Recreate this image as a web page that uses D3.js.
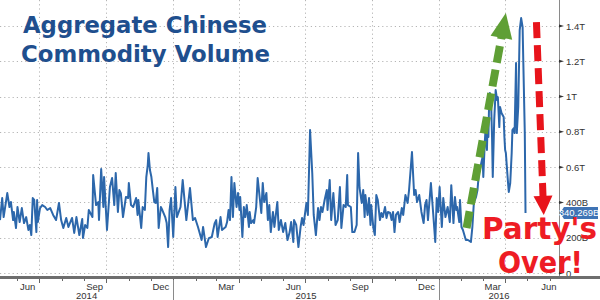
<!DOCTYPE html>
<html>
<head>
<meta charset="utf-8">
<script src="https://cdn.jsdelivr.net/npm/d3@7"></script>
<style>
  body { margin: 0; background: #fff; }
  svg { display: block; }
  .ax { font-family: "Liberation Sans Narrow", "Arial Narrow", "Liberation Sans", sans-serif; font-size: 9.5px; fill: #333; }
</style>
</head>
<body>
<svg id="chart" width="600" height="300"></svg>
<script>
// aggregate volume, billions
const dates = [
  "2014-05-08","2014-05-11","2014-05-13","2014-05-18","2014-05-21","2014-05-23","2014-05-26","2014-05-27","2014-05-30",
  "2014-06-01","2014-06-04","2014-06-07","2014-06-10","2014-06-13","2014-06-16","2014-06-18","2014-06-20","2014-06-22","2014-06-24","2014-06-27","2014-06-28","2014-06-29",
  "2014-07-02","2014-07-05","2014-07-09","2014-07-12","2014-07-16","2014-07-20","2014-07-24","2014-07-28","2014-07-31",
  "2014-08-03","2014-08-07","2014-08-10","2014-08-15","2014-08-18","2014-08-21","2014-08-25","2014-08-29","2014-08-30",
  "2014-09-02","2014-09-05","2014-09-07","2014-09-12","2014-09-13","2014-09-17","2014-09-20","2014-09-21","2014-09-24","2014-09-27","2014-09-28",
  "2014-10-02","2014-10-06","2014-10-09","2014-10-12","2014-10-14","2014-10-17","2014-10-19","2014-10-21","2014-10-24","2014-10-28","2014-10-31",
  "2014-11-01","2014-11-04","2014-11-07","2014-11-11","2014-11-13","2014-11-14","2014-11-18","2014-11-20","2014-11-23","2014-11-25","2014-11-27","2014-11-28","2014-11-30",
  "2014-12-02","2014-12-04","2014-12-06","2014-12-08","2014-12-10","2014-12-12","2014-12-15","2014-12-17","2014-12-21","2014-12-23","2014-12-25","2014-12-27","2014-12-29",
  "2015-01-01","2015-01-04","2015-01-06","2015-01-11","2015-01-14","2015-01-19","2015-01-24","2015-01-28","2015-01-31",
  "2015-02-04","2015-02-09","2015-02-11","2015-02-15","2015-02-19","2015-02-23","2015-02-27",
  "2015-03-01","2015-03-03","2015-03-07","2015-03-09","2015-03-14","2015-03-16","2015-03-18","2015-03-20","2015-03-22","2015-03-24","2015-03-26","2015-03-29","2015-03-31",
  "2015-04-02","2015-04-03","2015-04-06","2015-04-08","2015-04-10","2015-04-12","2015-04-15","2015-04-16","2015-04-18","2015-04-21","2015-04-22","2015-04-25","2015-04-27","2015-04-29",
  "2015-05-02","2015-05-04","2015-05-06","2015-05-09","2015-05-11","2015-05-13","2015-05-15","2015-05-18","2015-05-20","2015-05-24","2015-05-26","2015-05-29",
  "2015-06-01","2015-06-04","2015-06-07","2015-06-10","2015-06-12","2015-06-15","2015-06-16","2015-06-19","2015-06-22","2015-06-25","2015-06-27","2015-06-29",
  "2015-07-03","2015-07-05","2015-07-08","2015-07-11","2015-07-13","2015-07-16","2015-07-19","2015-07-21","2015-07-23","2015-07-25","2015-07-28","2015-07-31",
  "2015-08-01","2015-08-04","2015-08-06","2015-08-09","2015-08-12","2015-08-15","2015-08-18","2015-08-20","2015-08-23","2015-08-26","2015-08-28","2015-08-29",
  "2015-09-02","2015-09-04","2015-09-07","2015-09-10","2015-09-12","2015-09-14","2015-09-17","2015-09-19","2015-09-21","2015-09-22","2015-09-25","2015-09-27","2015-09-29","2015-09-30",
  "2015-10-03","2015-10-05","2015-10-07","2015-10-09","2015-10-12","2015-10-14","2015-10-16","2015-10-19","2015-10-21","2015-10-23","2015-10-26","2015-10-28","2015-10-30",
  "2015-11-01","2015-11-03","2015-11-06","2015-11-08","2015-11-11","2015-11-13","2015-11-16","2015-11-19","2015-11-21","2015-11-25","2015-11-28","2015-11-30",
  "2015-12-02","2015-12-05","2015-12-08","2015-12-11","2015-12-13","2015-12-15","2015-12-17","2015-12-21","2015-12-24","2015-12-27","2015-12-29","2015-12-31",
  "2016-01-02","2016-01-05","2016-01-07","2016-01-10","2016-01-13","2016-01-16","2016-01-18","2016-01-21","2016-01-23","2016-01-25","2016-01-26","2016-01-29","2016-01-30",
  "2016-02-01","2016-02-03","2016-02-07","2016-02-10","2016-02-14","2016-02-16","2016-02-18","2016-02-21","2016-02-23","2016-02-25","2016-02-27",
  "2016-03-01","2016-03-02","2016-03-04","2016-03-05","2016-03-07","2016-03-08","2016-03-09","2016-03-10","2016-03-11","2016-03-13","2016-03-14","2016-03-15","2016-03-17",
  "2016-03-19","2016-03-21","2016-03-22","2016-03-24","2016-03-25","2016-03-27","2016-03-30","2016-03-31",
  "2016-04-01","2016-04-02","2016-04-03","2016-04-05","2016-04-06","2016-04-08","2016-04-10","2016-04-11","2016-04-13","2016-04-14","2016-04-16","2016-04-17","2016-04-19",
  "2016-04-21","2016-04-23","2016-04-25","2016-04-26","2016-04-28","2016-04-29"
];
const volumes = [
  300,425,317,453,374,402,300,346,255,
  374,289,368,283,317,244,272,215,425,414,232,414,289,
  368,385,374,357,368,329,300,397,300,
  255,312,261,312,227,317,215,306,198,
  272,255,357,317,555,385,402,300,589,374,544,
  244,487,538,385,567,346,470,453,317,431,425,
  510,385,374,425,329,414,255,374,357,544,612,680,584,
  544,470,402,397,482,255,374,357,317,283,147,357,425,
  204,487,317,374,527,300,482,300,312,
  261,187,261,147,198,204,283,
  300,204,317,244,261,289,357,300,544,317,510,374,453,
  357,431,204,374,317,385,261,346,283,300,283,374,538,459,
  340,510,402,453,300,385,232,346,261,402,244,300,
  232,283,187,232,289,176,300,272,147,261,312,272,
  397,329,810,567,329,215,368,300,374,346,414,470,
  357,527,300,453,272,300,487,255,385,374,555,385,
  374,232,232,272,680,482,397,470,317,442,329,425,272,385,
  255,215,442,414,300,340,317,374,312,346,340,300,346,
  232,329,346,289,368,329,442,397,470,686,442,470,
  402,442,346,283,385,414,300,510,346,176,425,346,
  487,261,425,317,374,289,498,283,431,357,374,289,414,
  261,244,187,187,176,261,397,431,470,567,600,
  657,544,737,810,697,867,771,963,1020,924,771,544,867,
  1037,980,997,827,941,907,884,771,
  697,680,623,510,459,510,680,810,822,793,1190,793,941,
  1377,1445,1394,1190,793,340.269
];

const yTicks = [0, 200, 400, 600, 800, 1000, 1200, 1400];
const yTickLabels = ["0", "200B", "400B", "0.6T", "0.8T", "1T", "1.2T", "1.4T"];
const gridDates = ["2014-07-01","2014-10-01","2015-01-01","2015-04-01","2015-07-01","2015-10-01","2016-01-01","2016-04-01"];
const monthLabelDates = ["2014-06-15","2014-09-15","2014-12-15","2015-03-15","2015-06-15","2015-09-15","2015-12-15","2016-03-15","2016-06-15"];
const yearLabels = ["2014", "2015", "2016"];
const lastLabel = "340.269B";
const titleLines = ["Aggregate Chinese", "Commodity Volume"];
const noteLines = ["Party's", "Over!"];
// annotation arrows: [start date, start value, end date, end value]
const upArrow = ["2016-02-08", 255, "2016-04-02", 1473];
const downArrow = ["2016-05-14", 1422, "2016-05-24", 329];

const parse = d3.timeParse("%Y-%m-%d");
const svg = d3.select("#chart");
const W = 600, H = 300;
const plotRight = 559, plotBottom = 273;

const x = d3.scaleTime()
  .domain([parse("2014-05-08"), parse("2016-06-14")])
  .range([0, plotRight]);
const y = d3.scaleLinear().domain([0, 1400]).range([plotBottom, 26]);

const data = dates.map((d, i) => ({ date: parse(d), v: volumes[i] }));

svg.append("rect").attr("width", W).attr("height", H).attr("fill", "#fff");

// grid
const grid = svg.append("g").attr("stroke", "#b5b5b5").attr("stroke-width", 1).attr("stroke-dasharray", "1.2,3");
grid.selectAll("line.h").data(yTicks).enter().append("line")
  .attr("x1", 0).attr("x2", plotRight)
  .attr("y1", d => Math.round(y(d)) + 0.5).attr("y2", d => Math.round(y(d)) + 0.5);
grid.selectAll("line.v").data(gridDates).enter().append("line")
  .attr("x1", d => Math.round(x(parse(d))) + 0.5).attr("x2", d => Math.round(x(parse(d))) + 0.5)
  .attr("y1", 0).attr("y2", plotBottom);

// title
svg.selectAll("text.title").data(titleLines).enter().append("text")
  .attr("x", (d, i) => i ? 21 : 23)
  .attr("y", (d, i) => 33 + i * 29)
  .attr("textLength", (d, i) => i ? 249 : 244)
  .attr("lengthAdjust", "spacingAndGlyphs")
  .attr("font-family", "'DejaVu Sans', Verdana, sans-serif")
  .attr("font-weight", "bold")
  .attr("font-size", 22.5)
  .attr("fill", "#1f4f8e")
  .text(d => d);

// series
const line = d3.line().x(d => x(d.date)).y(d => y(d.v));
svg.append("path").datum(data)
  .attr("fill", "none")
  .attr("stroke", "#2c67ab")
  .attr("stroke-width", 2)
  .attr("stroke-linejoin", "round")
  .attr("d", line);

// right axis
svg.append("line").attr("x1", plotRight + 0.5).attr("x2", plotRight + 0.5)
  .attr("y1", 0).attr("y2", 278).attr("stroke", "#8a8a8a");
const yAxis = svg.append("g");
yAxis.selectAll("path").data(yTicks).enter().append("path")
  .attr("d", d => { const yy = y(d); return `M${plotRight},${yy - 1.5}L${plotRight + 5},${yy}L${plotRight},${yy + 1.5}Z`; })
  .attr("fill", "#333");
yAxis.selectAll("text").data(yTicks).enter().append("text")
  .attr("class", "ax")
  .attr("x", plotRight + 7)
  .attr("y", d => y(d) + 3.5)
  .text((d, i) => yTickLabels[i]);

// bottom axis
svg.append("line").attr("x1", 0).attr("x2", W).attr("y1", 277.5).attr("y2", 277.5)
  .attr("stroke", "#6e6e6e").attr("stroke-width", 3);
const months = d3.timeMonth.range(parse("2014-06-01"), parse("2016-06-02"));
svg.selectAll("line.mt").data(months).enter().append("line")
  .attr("x1", d => Math.round(x(d)) + 0.5).attr("x2", d => Math.round(x(d)) + 0.5)
  .attr("y1", 279).attr("y2", d => d.getMonth() % 3 === 0 ? 283 : 281)
  .attr("stroke", "#666");
svg.selectAll("text.mlab").data(monthLabelDates).enter().append("text")
  .attr("class", "ax")
  .attr("text-anchor", "middle")
  .attr("x", d => Math.min(x(parse(d)), 549))
  .attr("y", 289.5)
  .text(d => d3.timeFormat("%b")(parse(d)));
const yearBounds = [parse("2014-05-08"), parse("2015-01-01"), parse("2016-01-01"), parse("2016-06-14")];
svg.selectAll("line.ysep").data(yearBounds.slice(1, 3)).enter().append("line")
  .attr("x1", d => Math.round(x(d)) + 0.5).attr("x2", d => Math.round(x(d)) + 0.5)
  .attr("y1", 280).attr("y2", 300).attr("stroke", "#8a8a8a");
svg.selectAll("text.ylab").data(yearLabels).enter().append("text")
  .attr("class", "ax")
  .attr("text-anchor", "middle")
  .attr("x", (d, i) => (x(yearBounds[i]) + x(yearBounds[i + 1])) / 2)
  .attr("y", 299)
  .text(d => d);

// annotation arrows
function arrow(a, color, width, dash, headLen, headHalf) {
  const x0 = x(parse(a[0])), y0 = y(a[1]), x1 = x(parse(a[2])), y1 = y(a[3]);
  const len = Math.hypot(x1 - x0, y1 - y0);
  const ux = (x1 - x0) / len, uy = (y1 - y0) / len;
  const bx = x1 - ux * headLen, by = y1 - uy * headLen;
  svg.append("line").attr("x1", x0).attr("y1", y0).attr("x2", bx + ux * 2).attr("y2", by + uy * 2)
    .attr("stroke", color).attr("stroke-width", width).attr("stroke-dasharray", dash);
  svg.append("path")
    .attr("d", `M${x1},${y1}L${bx - uy * headHalf},${by + ux * headHalf}L${bx + uy * headHalf},${by - ux * headHalf}Z`)
    .attr("fill", color);
}
arrow(upArrow, "#5f9f35", 8, "17,7", 25, 11);
arrow(downArrow, "#e8141b", 7, "16,7", 19, 9.5);

// last value tag
const last = data[data.length - 1];
const ly = y(last.v);
svg.append("path")
  .attr("d", `M${plotRight + 1},${ly}L${plotRight + 5},${ly - 6}L598,${ly - 6}L598,${ly + 6}L${plotRight + 5},${ly + 6}Z`)
  .attr("fill", "#3f74b5");
svg.append("text").attr("class", "ax")
  .attr("x", 579).attr("y", ly + 3)
  .attr("text-anchor", "middle")
  .attr("font-size", 9)
  .style("fill", "#fff")
  .text(lastLabel);

// note
svg.selectAll("text.note").data(noteLines).enter().append("text")
  .attr("x", (d, i) => i ? 498 : 482)
  .attr("y", (d, i) => i ? 273 : 239)
  .attr("textLength", (d, i) => i ? 85 : 115)
  .attr("lengthAdjust", "spacingAndGlyphs")
  .attr("font-family", "'DejaVu Sans', Verdana, sans-serif")
  .attr("font-weight", "bold")
  .attr("font-size", 30)
  .attr("fill", "#ee1c24")
  .text(d => d);
</script>
</body>
</html>
